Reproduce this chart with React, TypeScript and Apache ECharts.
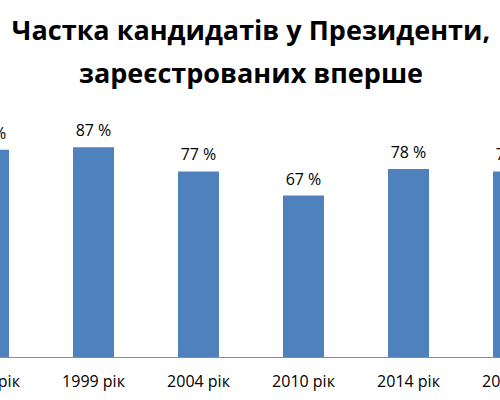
import React, { useEffect, useRef } from "react";
import * as echarts from "echarts";

const titleText = "Частка кандидатів у Президенти,\nзареєстрованих вперше";
const categories = ["1994 рік", "1999 рік", "2004 рік", "2010 рік", "2014 рік", "2019 рік"];
const values = [86, 87, 77, 67, 78, 77];

export default function App() {
  const ref = useRef<HTMLDivElement>(null);
  useEffect(() => {
    document.body.style.margin = "0";
    const chart = echarts.init(ref.current!, null, { renderer: "svg" });
    chart.setOption({
      animation: false,
      backgroundColor: "#ffffff",
      title: {
        text: titleText,
        left: "center",
        top: 3,
        textStyle: {
          fontFamily: "Open Sans",
          fontWeight: "bold",
          fontSize: 27,
          lineHeight: 43,
          color: "#000000",
        },
      },
      grid: { left: 0, right: 0, top: 116, bottom: 43 },
      xAxis: {
        type: "category",
        data: categories,
        axisTick: { show: false },
        axisLine: { lineStyle: { color: "#8c8c8c", width: 1 } },
        axisLabel: {
          color: "#000000",
          fontFamily: "Open Sans",
          fontSize: 16,
          margin: 16,
        },
      },
      yAxis: {
        type: "value",
        min: 0,
        max: 100,
        show: false,
        splitLine: { show: false },
      },
      series: [
        {
          type: "bar",
          data: values,
          barWidth: 41,
          itemStyle: { color: "#4f81bd" },
          label: {
            show: true,
            position: "top",
            distance: 9,
            formatter: "{c} %",
            color: "#000000",
            fontFamily: "Open Sans",
            fontSize: 16,
          },
        },
      ],
    });
    return () => chart.dispose();
  }, []);
  return (
    <div style={{ position: "relative", width: 500, height: 400, overflow: "hidden" }}>
      <div ref={ref} style={{ position: "absolute", left: -64, top: 0, width: 630, height: 400 }} />
    </div>
  );
}
